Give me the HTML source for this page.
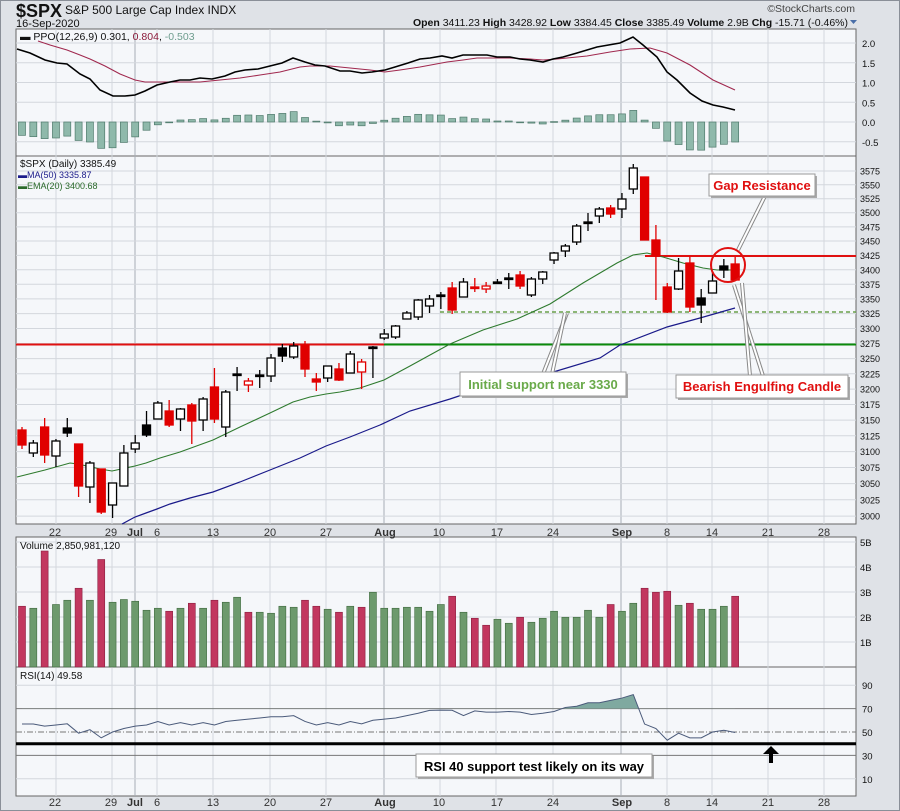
<!DOCTYPE html>
<html><head><meta charset="utf-8"><style>
body{margin:0;background:#dfe2e7;}
svg{display:block;font-family:"Liberation Sans",sans-serif;}
</style></head><body>
<svg id="s" width="900" height="811" xmlns="http://www.w3.org/2000/svg">
<rect x="0" y="0" width="900" height="811" fill="#dfe2e7"/>
<rect x="0.5" y="0.5" width="899" height="810" fill="none" stroke="#8a8f98"/>
<rect x="16" y="29" width="840" height="127" fill="#f5f7fa" stroke="#666"/>
<rect x="16" y="156" width="840" height="368" fill="#f5f7fa" stroke="#666"/>
<rect x="16" y="537" width="840" height="130" fill="#f5f7fa" stroke="#666"/>
<rect x="16" y="667" width="840" height="129" fill="#f5f7fa" stroke="#666"/>
<g id="grid"></g>
<g id="draw"></g>
<text x="16" y="17" font-size="18" font-weight="bold" fill="#111">$SPX</text>
<text x="65" y="14" font-size="12" fill="#111">S&amp;P 500 Large Cap Index  INDX</text>
<text x="16" y="27" font-size="11" fill="#111">16-Sep-2020</text>
<text x="855" y="12" font-size="10.5" fill="#444" text-anchor="end">©StockCharts.com</text>
<text x="848" y="26" font-size="10.5" fill="#111" text-anchor="end"><tspan font-weight="bold">Open</tspan> 3411.23  <tspan font-weight="bold">High</tspan> 3428.92  <tspan font-weight="bold">Low</tspan> 3384.45  <tspan font-weight="bold">Close</tspan> 3385.49  <tspan font-weight="bold">Volume</tspan> 2.9B  <tspan font-weight="bold">Chg</tspan> -15.71 (-0.46%)</text>
<path d="M850,20 l7,0 l-3.5,4z" fill="#4a6ea8"/>
<text x="20" y="40" font-size="10.5" fill="#111">▬ PPO(12,26,9) 0.301, <tspan fill="#8b1a3a">0.804</tspan>, <tspan fill="#6e9d8e">-0.503</tspan></text>
<text x="20" y="167" font-size="10" fill="#111">$SPX (Daily) 3385.49</text>
<text x="18" y="178" font-size="9" fill="#1a1a8a">▬MA(50) 3335.87</text>
<text x="18" y="189" font-size="9" fill="#2a6a2a">▬EMA(20) 3400.68</text>
<text x="20" y="549" font-size="10" fill="#111">Volume 2,850,981,120</text>
<text x="20" y="679" font-size="10" fill="#111">RSI(14) 49.58</text>
<g id="ann"></g>
<g font-size="9.5" fill="#111" id="rlab"></g>
<g font-size="11" fill="#333" id="xlab"></g>
</svg>
<script>
const NS="http://www.w3.org/2000/svg";
function el(p,t,a){const e=document.createElementNS(NS,t);for(const k in a)e.setAttribute(k,a[k]);p.appendChild(e);return e;}
const G=document.getElementById('grid'),D=document.getElementById('draw'),A=document.getElementById('ann'),R=document.getElementById('rlab'),XL=document.getElementById('xlab');
const X=i=>22+i*11.32;
const vg=[[56,0],[112,0],[135,1],[157,0],[213,0],[270,0],[326,0],[384,1],[440,0],[496,0],[553,0],[621,1],[667,0],[712,0],[768,0],[824,0]];
for(const [x,d] of vg){for(const [a,b] of [[29,156],[156,524],[537,667],[667,796]])el(G,'line',{x1:x,x2:x,y1:a,y2:b,stroke:d?'#a8adb5':'#d3d7dd','stroke-width':1});}
const xl=[[55,'22'],[111,'29'],[135,'Jul',1],[157,'6'],[213,'13'],[270,'20'],[326,'27'],[385,'Aug',1],[439,'10'],[497,'17'],[553,'24'],[622,'Sep',1],[667,'8'],[712,'14'],[768,'21'],[824,'28']];
for(const yy of [536,806])for(const [x,t,b] of xl){const e=el(XL,'text',{x:x,y:yy,'text-anchor':'middle','font-weight':b?'bold':'normal'});e.textContent=t;}
const py=v=>122-v*39.5;
for(let v=-0.5;v<=2.01;v+=0.5){el(G,'line',{x1:16,x2:856,y1:py(v),y2:py(v),stroke:'#d3d7dd'});const t=el(R,'text',{x:862,y:py(v)+4});t.textContent=v.toFixed(1);}
const yp=p=>171+1968*Math.log(3575/p);
for(let p=3000;p<=3575;p+=25){el(G,'line',{x1:16,x2:856,y1:yp(p),y2:yp(p),stroke:'#d3d7dd'});const t=el(R,'text',{x:860,y:yp(p)+3.5,'font-size':9});t.textContent=p;}
for(let b=1;b<=5;b++){const y=667-b*25;el(G,'line',{x1:16,x2:856,y1:y,y2:y,stroke:'#d3d7dd'});const t=el(R,'text',{x:860,y:y+4});t.textContent=b+'B';}
const ry=v=>732-(v-50)*1.17;
for(const v of [10,90]){el(G,'line',{x1:16,x2:856,y1:ry(v),y2:ry(v),stroke:'#d3d7dd'});}
for(const v of [30,70]){el(G,'line',{x1:16,x2:856,y1:ry(v),y2:ry(v),stroke:'#777'});}
el(G,'line',{x1:16,x2:856,y1:ry(50),y2:ry(50),stroke:'#777','stroke-dasharray':'6,2,1,2'});
for(const v of [10,30,50,70,90]){const t=el(R,'text',{x:862,y:ry(v)+4});t.textContent=v;}
const ppo=[[17,49],[30,53],[45,60],[57,63],[67,64],[80,74],[90,79],[100,90],[113,96],[125,96],[135,95],[145,91],[157,85],[170,82],[180,80],[190,80],[200,78],[212,79],[225,76],[235,72],[245,70],[258,69],[270,66],[282,63],[293,58],[305,62],[315,65],[325,66],[340,71],[350,71],[362,73],[372,72],[385,70],[395,67],[408,63],[420,59],[430,58],[442,56],[452,58],[463,55],[487,55],[497,57],[510,57],[520,59],[530,60],[543,62],[553,59],[563,57],[577,53],[597,47],[620,43],[633,37],[643,45],[657,57],[667,72],[677,80],[690,93],[702,101],[713,105],[723,107],[735,110]];
const sig=[[17,36],[38,41],[50,45],[67,50],[80,55],[90,59],[105,66],[120,74],[135,80],[145,82],[160,82],[200,82],[220,80],[240,78],[260,75],[280,72],[300,67],[310,66],[330,66],[350,68],[370,70],[385,72],[400,70],[420,67],[447,62],[463,60],[477,58],[510,58],[530,59],[543,60],[557,59],[587,56],[610,52],[630,49],[650,48],[667,53],[690,65],[713,80],[735,90]];
const interp=(arr,x)=>{for(let i=0;i<arr.length-1;i++){if(x>=arr[i][0]&&x<=arr[i+1][0]){const t=(x-arr[i][0])/(arr[i+1][0]-arr[i][0]);return arr[i][1]+t*(arr[i+1][1]-arr[i][1]);}}return x<arr[0][0]?arr[0][1]:arr[arr.length-1][1];};
for(let i=0;i<64;i++){const x=X(i);const h=interp(sig,x)-interp(ppo,x);const y0=122,y1=122-h;el(D,'rect',{x:x-3.5,y:Math.min(y0,y1),width:7,height:Math.max(0.8,Math.abs(h)),fill:'#8fb9ab',stroke:'#4f7a6c','stroke-width':0.7});}
const pl=a=>a.map(p=>p.join(',')).join(' ');
el(D,'polyline',{points:pl(sig.filter(p=>p[0]>=38)),fill:'none',stroke:'#a0284e','stroke-width':1.1});
el(D,'polyline',{points:pl(ppo),fill:'none',stroke:'#000','stroke-width':1.6});
el(D,'line',{x1:16,x2:384,y1:344.5,y2:344.5,stroke:'#e01010','stroke-width':2});
el(D,'line',{x1:384,x2:856,y1:344.5,y2:344.5,stroke:'#0a8a0a','stroke-width':2});
el(D,'line',{x1:440,x2:856,y1:312,y2:312,stroke:'#6aa04a','stroke-width':1.5,'stroke-dasharray':'4,3'});
el(D,'line',{x1:645,x2:856,y1:256,y2:256,stroke:'#e01010','stroke-width':2});
const ma50=[[122,524],[135,517],[146,513],[157,509],[170,504],[190,498],[213,492],[240,482],[270,470],[300,458],[326,446],[350,437],[380,425],[410,411],[450,399],[483,388],[550,373],[600,358],[620,345],[667,327],[700,318],[735,308]];
const ema=[[17,477],[45,470],[70,463],[78,464],[100,469],[112,471],[135,466],[146,463],[160,458],[180,452],[213,440],[240,427],[270,413],[293,402],[310,397],[326,394],[340,392],[360,388],[384,380],[410,366],[430,355],[450,344],[483,330],[517,319],[550,304],[583,283],[617,263],[633,255],[647,253],[663,257],[683,263],[703,268],[717,270],[735,270]];
el(D,'polyline',{points:pl(ma50),fill:'none',stroke:'#1a1a8a','stroke-width':1.2});
el(D,'polyline',{points:pl(ema),fill:'none',stroke:'#2e7a2e','stroke-width':1.1});
const C=[[430,445,427,449,'r'],[443,453,440,457,'h'],[427,455,418,463,'r'],[441,456,439,467,'h'],[428,433,418,437,'b'],[444,486,444,497,'r'],[463,487,461,503,'h'],[469,512,469,514,'r'],[483,505,483,518,'h'],[453,486,445,486,'h'],[443,449,435,453,'h'],[425,435,411,437,'b'],[403,419,401,419,'h'],[411,425,400,427,'r'],[409,419,408,431,'h'],[405,421,403,444,'r'],[399,420,397,431,'h'],[387,419,368,423,'r'],[392,427,390,437,'h'],[374,375,367,391,'b'],[381,385,378,392,'rh'],[375,376,370,388,'b'],[358,376,354,382,'h'],[348,356,344,362,'b'],[346,357,342,359,'h'],[345,369,341,377,'r'],[379,382,373,391,'r'],[366,378,366,382,'h'],[369,380,363,381,'r'],[354,373,351,373,'h'],[362,372,359,389,'rh'],[347,348,346,378,'b'],[334,338,329,340,'h'],[326,337,325,339,'h'],[313,319,311,319,'h'],[300,317,299,320,'h'],[299,306,295,313,'h'],[295,296,292,309,'b'],[288,310,282,314,'r'],[282,297,278,297,'h'],[287,288,278,292,'r'],[286,289,282,293,'rh'],[282,283,279,284,'b'],[278,279,273,289,'b'],[275,286,271,289,'r'],[279,295,277,297,'h'],[272,279,271,284,'h'],[253,260,252,264,'h'],[246,251,244,257,'h'],[226,242,224,245,'h'],[222,223,213,231,'b'],[209,216,207,223,'h'],[208,214,205,218,'r'],[199,209,193,218,'h'],[168,189,164,194,'h'],[177,240,177,240,'r'],[240,256,225,300,'r'],[287,312,283,313,'r'],[271,289,258,290,'h'],[263,307,257,312,'r'],[298,305,289,323,'b'],[281,293,272,293,'h'],[266,270,259,278,'b'],[264,280,257,280,'r']];
C.forEach((c,i)=>{const x=X(i);const [bt,bb,wt,wb,t]=c;const col=(t=='r'||t=='rh')?'#e00000':'#000';
el(D,'line',{x1:x,x2:x,y1:wt,y2:wb,stroke:col,'stroke-width':1.3});
const h=Math.max(1.5,bb-bt);const fill=(t=='r'||t=='b')?col:'#fff';
el(D,'rect',{x:x-4,y:bt,width:8,height:h,fill:fill,stroke:col,'stroke-width':1.3});});
const V=[[2.43,'r'],[2.35,'g'],[4.64,'r'],[2.5,'g'],[2.67,'g'],[3.15,'r'],[2.67,'g'],[4.3,'r'],[2.59,'g'],[2.7,'g'],[2.63,'g'],[2.27,'g'],[2.35,'g'],[2.23,'r'],[2.35,'g'],[2.55,'r'],[2.35,'g'],[2.67,'r'],[2.59,'g'],[2.79,'g'],[2.19,'r'],[2.19,'g'],[2.15,'g'],[2.43,'g'],[2.39,'g'],[2.67,'r'],[2.43,'r'],[2.31,'g'],[2.19,'r'],[2.43,'g'],[2.39,'r'],[2.99,'g'],[2.35,'g'],[2.35,'g'],[2.39,'g'],[2.39,'g'],[2.23,'g'],[2.5,'g'],[2.83,'r'],[2.19,'g'],[1.95,'r'],[1.67,'r'],[1.91,'g'],[1.75,'g'],[1.99,'r'],[1.79,'g'],[1.95,'g'],[2.23,'g'],[1.99,'g'],[1.99,'g'],[2.27,'g'],[1.99,'g'],[2.5,'r'],[2.23,'g'],[2.55,'g'],[3.15,'r'],[2.99,'r'],[3.03,'r'],[2.47,'g'],[2.55,'r'],[2.31,'g'],[2.31,'g'],[2.43,'g'],[2.83,'r']];
V.forEach((v,i)=>{const x=X(i),h=v[0]*25;el(D,'rect',{x:x-3.5,y:667-h,width:7,height:h,fill:v[1]=='r'?'#c2375f':'#6d9a6d',stroke:v[1]=='r'?'#8a1f40':'#3f6a3f','stroke-width':0.6});});
const RS=[56.8,56.8,55,56,57,49,52,45,50,53,55,56,59,56,58,56,58,56,59,60,61,62,63,63,64,59,56,58,56,59,57,60,61,62,64,66,68.5,68.7,68.6,64,68,67,67,67.5,67,65,66,67.5,71,72,75,75,77,79,82,56.8,53,43,49,45,45,50,51.5,49.6];
const rp=RS.map((v,i)=>[X(i),ry(v)]);
const cp=el(D,'clipPath',{id:'c70'});el(cp,'rect',{x:0,y:600,width:900,height:ry(70)-600});
el(D,'polygon',{points:pl([[X(0),ry(70)],...rp,[X(63),ry(70)]]),fill:'#7fa9a0','clip-path':'url(#c70)'});
el(D,'polyline',{points:pl(rp),fill:'none',stroke:'#4a5a7a','stroke-width':1});
el(D,'line',{x1:16,x2:856,y1:ry(40),y2:ry(40),stroke:'#000','stroke-width':3});
el(D,'path',{d:'M769,754 l-6,0 l8,-8 l8,8 l-6,0 l0,9 l-4,0z',fill:'#000'});
function callout(x1,y1,x2,y2){el(A,'line',{x1,y1,x2,y2,stroke:'#888','stroke-width':4});el(A,'line',{x1,y1,x2,y2,stroke:'#fff','stroke-width':2});}
callout(765,196,738,250);callout(734,285,763,376);callout(742,283,750,376);callout(567,313,543,374);callout(565,313,552,374);
el(A,'circle',{cx:728,cy:265,r:17,fill:'none',stroke:'#e01010','stroke-width':2});
function box(x,y,w,h){el(A,'rect',{x:x+2,y:y+2,width:w,height:h,fill:'#aaa'});el(A,'rect',{x,y,width:w,height:h,fill:'#fff',stroke:'#999'});}
box(709,174,106,22);box(676,375,172,23);box(460,372,166,24);box(416,754,236,23);
</script>
<div style="position:absolute;left:0;top:0;width:900px;height:811px;pointer-events:none">
<svg width="900" height="811" style="font-family:'Liberation Sans',sans-serif">
<text x="762" y="190" font-size="13" font-weight="bold" fill="#e01010" text-anchor="middle">Gap Resistance</text>
<text x="762" y="391" font-size="13" font-weight="bold" fill="#e01010" text-anchor="middle">Bearish Engulfing Candle</text>
<text x="543" y="389" font-size="13" font-weight="bold" fill="#6aaa4a" text-anchor="middle">Initial support near 3330</text>
<text x="534" y="771" font-size="13" font-weight="bold" fill="#000" text-anchor="middle" textLength="220" lengthAdjust="spacingAndGlyphs">RSI 40 support test likely on its way</text>
</svg></div>
</body></html>
